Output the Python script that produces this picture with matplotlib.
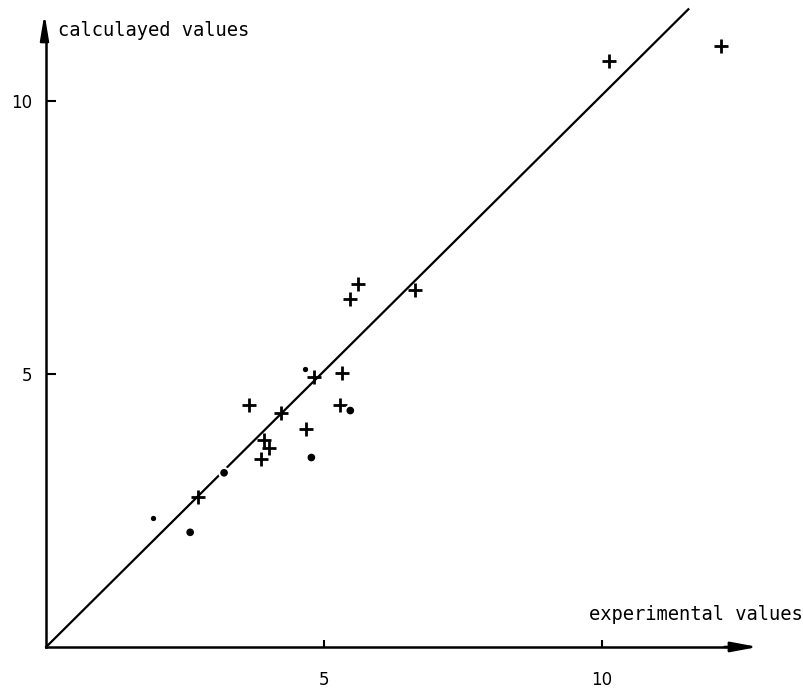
import matplotlib
matplotlib.use('Agg')
import matplotlib.pyplot as plt
import matplotlib.patheffects as pe

# points (experimental, calculated)
plus_x = [10.13, 12.14, 5.60, 5.46, 6.64, 4.81, 5.32, 5.29, 3.65, 4.22, 4.67, 3.92, 4.01, 3.87, 2.74]
plus_y = [10.73, 11.01, 6.65, 6.37, 6.53, 4.94, 5.01, 4.43, 4.43, 4.29, 3.99, 3.79, 3.64, 3.44, 2.74]
dot_x = [5.47, 4.77, 3.20, 2.59]
dot_y = [4.33, 3.47, 3.19, 2.10]
small_dot_x = [1.92, 4.66]
small_dot_y = [2.36, 5.09]

# diagonal reference line
line_x = [0, 11.55]
line_y = [0, 11.68]

ticks = [5, 10]
tick_labels = ['5', '10']

fig = plt.figure(figsize=(8.04, 6.89), dpi=100)
ax = fig.add_axes([0, 0, 1, 1])
ax.set_xlim(-0.83, 13.63)
ax.set_ylim(-0.77, 11.85)

# axes through the origin
for side in ['top', 'right']:
    ax.spines[side].set_visible(False)
ax.spines['left'].set_position(('data', 0))
ax.spines['bottom'].set_position(('data', 0))
ax.spines['left'].set_bounds(0, 11.2)
ax.spines['bottom'].set_bounds(0, 12.3)
ax.spines['left'].set_linewidth(1.8)
ax.spines['bottom'].set_linewidth(1.8)

ax.set_xticks(ticks)
ax.set_xticklabels(tick_labels)
ax.set_yticks(ticks)
ax.set_yticklabels(tick_labels)
ax.tick_params(axis='x', direction='in', length=5, width=1.5, pad=17, labelsize=12)
ax.tick_params(axis='y', direction='in', length=7, width=1.5, pad=10, labelsize=12)

# arrow heads
ax.annotate('', xy=(12.8, 0), xytext=(12.2, 0),
            arrowprops=dict(arrowstyle='-|>,head_length=1.6,head_width=0.3',
                            color='black', lw=1.8, shrinkA=0, shrinkB=0))
ax.annotate('', xy=(-0.03, 11.6), xytext=(-0.03, 11.1),
            arrowprops=dict(arrowstyle='-|>,head_length=1.5,head_width=0.25',
                            color='black', lw=1.8, shrinkA=0, shrinkB=0))

ax.plot(line_x, line_y, color='black', linewidth=1.6)

# white halo breaks the line around the dots, like the hand drawing
halo = [pe.withStroke(linewidth=4, foreground='white')]
ax.plot(plus_x, plus_y, linestyle='none', marker='+', markersize=10,
        markeredgewidth=2, color='black')
ax.plot(dot_x, dot_y, linestyle='none', marker='o', markersize=4.5, color='black',
        path_effects=halo)
ax.plot(small_dot_x, small_dot_y, linestyle='none', marker='o', markersize=2.8, color='black')

ax.text(0.22, 11.3, 'calculayed values', fontsize=13.5, family='DejaVu Sans Mono',
        ha='left', va='center')
ax.text(13.6, 0.6, 'experimental values', fontsize=13.5, family='DejaVu Sans Mono',
        ha='right', va='center')

fig.savefig('out.png', dpi=100)
